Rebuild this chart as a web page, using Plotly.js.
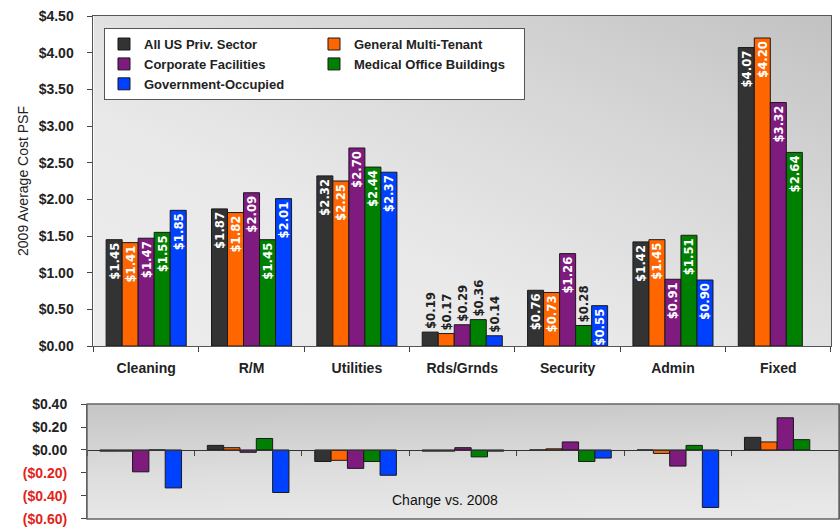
<!DOCTYPE html>
<html>
<head>
<meta charset="utf-8">
<script src="https://cdn.plot.ly/plotly-3.0.1.min.js"></script>
<style>html,body{margin:0;padding:0;background:#fff;}#chart{width:840px;height:527px;}</style>
</head>
<body>
<div id="chart"></div>
<script>
// ---- data ----
const categories = ['Cleaning', 'R/M', 'Utilities', 'Rds/Grnds', 'Security', 'Admin', 'Fixed'];
const seriesNames = ['All US Priv. Sector', 'General Multi-Tenant', 'Corporate Facilities', 'Medical Office Buildings', 'Government-Occupied'];

const allUS      = [1.45, 1.87, 2.32, 0.19, 0.76, 1.42, 4.07];
const generalMT  = [1.41, 1.82, 2.25, 0.17, 0.73, 1.45, 4.20];
const corporate  = [1.47, 2.09, 2.70, 0.29, 1.26, 0.91, 3.32];
const medical    = [1.55, 1.45, 2.44, 0.36, 0.28, 1.51, 2.64];
const government = [1.85, 2.01, 2.37, 0.14, 0.55, 0.90, null];

const allUSChg      = [-0.01, 0.04, -0.10, -0.01, 0.00, 0.00, 0.11];
const generalMTChg  = [-0.01, 0.02, -0.09, -0.01, 0.01, -0.03, 0.07];
const corporateChg  = [-0.19, -0.02, -0.16, 0.02, 0.07, -0.14, 0.28];
const medicalChg    = [0.00, 0.10, -0.10, -0.06, -0.10, 0.04, 0.09];
const governmentChg = [-0.33, -0.37, -0.22, -0.01, -0.07, -0.50, null];

const costTicks = [0, 0.5, 1, 1.5, 2, 2.5, 3, 3.5, 4, 4.5];
const changeTicks = [0.4, 0.2, 0, -0.2, -0.4, -0.6];

// ---- styles ----
const colors = ['#333333', '#ff6600', '#7f1a7f', '#008000', '#0040ff'];
const groups = ['a', 'b', 'a', 'b', 'a'];
const costSeries = [allUS, generalMT, corporate, medical, government];
const changeSeries = [allUSChg, generalMTChg, corporateChg, medicalChg, governmentChg];

const labelFont = 'Liberation Sans Narrow, Arial Narrow, DejaVu Sans Condensed, sans-serif';
const mainFont = 'Liberation Sans, Arial, sans-serif';

const traces = [];
costSeries.forEach((vals, i) => {
  traces.push({
    type: 'bar', name: seriesNames[i], x: categories, y: vals,
    xaxis: 'x', yaxis: 'y',
    legendgroup: groups[i],
    marker: {color: colors[i], line: {color: '#1a1a1a', width: 1}},
    texttemplate: '$%{y:.2f}',
    textangle: -90,
    textposition: vals.map(v => (v !== null && v < 0.4) ? 'outside' : 'inside'),
    insidetextanchor: 'end',
    constraintext: 'none',
    cliponaxis: false,
    insidetextfont: {family: labelFont, size: 13, color: '#ffffff', weight: 'bold'},
    outsidetextfont: {family: labelFont, size: 13, color: '#222222', weight: 'bold'},
    hoverinfo: 'x+y+name'
  });
});
changeSeries.forEach((vals, i) => {
  traces.push({
    type: 'bar', name: seriesNames[i], x: categories, y: vals,
    xaxis: 'x2', yaxis: 'y2',
    legendgroup: groups[i], showlegend: false,
    marker: {color: colors[i], line: {color: '#1a1a1a', width: 1}},
    hoverinfo: 'x+y+name'
  });
});

function gradient(svgInner) {
  const svg = '<svg xmlns="http://www.w3.org/2000/svg" width="100" height="100" viewBox="0 0 100 100" preserveAspectRatio="none">' + svgInner + '</svg>';
  return 'data:image/svg+xml;charset=utf-8,' + encodeURIComponent(svg);
}
const topBg = gradient('<defs><linearGradient id="g" x1="0" y1="1" x2="1" y2="0"><stop offset="0" stop-color="#ececec"/><stop offset="0.35" stop-color="#e9e9e9"/><stop offset="0.7" stop-color="#d6d6d6"/><stop offset="1" stop-color="#c2c2c2"/></linearGradient></defs><rect width="100" height="100" fill="url(#g)"/>');
const botBg = gradient('<defs><linearGradient id="h" x1="0.2" y1="0" x2="0.35" y2="1"><stop offset="0" stop-color="#c6c6c6"/><stop offset="0.6" stop-color="#dedede"/><stop offset="1" stop-color="#e8e8e8"/></linearGradient></defs><rect width="100" height="100" fill="url(#h)"/>');

const topDomY = [0.3439, 1];
const botDomY = [0, 0.2286];
const topDomX = [0.00864, 0.98936];
const botRange = [-0.6005, 0.4];
const zeroPos = botDomY[0] + (0 - botRange[0]) / (botRange[1] - botRange[0]) * (botDomY[1] - botDomY[0]);

const costTickText = costTicks.map(v => '$' + v.toFixed(2));
const changeTickText = changeTicks.map(v => v < 0
  ? '<span style="color:#e2231a">($' + Math.abs(v).toFixed(2) + ')</span>'
  : '$' + v.toFixed(2));

const layout = {
  width: 840, height: 527,
  margin: {l: 87, r: 1, t: 16, b: 8},
  paper_bgcolor: '#ffffff',
  plot_bgcolor: 'rgba(0,0,0,0)',
  barmode: 'group', bargap: 0.24, bargroupgap: 0,
  font: {family: mainFont, color: '#222222'},
  showlegend: true,
  legend: {
    orientation: 'h', traceorder: 'grouped', tracegroupgap: 10,
    entrywidth: 165, entrywidthmode: 'pixels',
    x: 0.0226, y: 0.976, xanchor: 'left', yanchor: 'top',
    bgcolor: '#ffffff', bordercolor: '#555555', borderwidth: 1,
    font: {family: mainFont, size: 13, color: '#222222', weight: 'bold'},
    itemwidth: 30
  },
  xaxis: {
    domain: topDomX, anchor: 'y', type: 'category',
    showline: true, linecolor: '#555555', linewidth: 1, mirror: true,
    ticks: 'outside', tickson: 'boundaries', ticklen: 5, tickcolor: '#444444',
    ticklabelstandoff: 9,
    tickfont: {family: mainFont, size: 14, color: '#222222', weight: 'bold'},
    showgrid: false, zeroline: false, fixedrange: true
  },
  yaxis: {
    domain: topDomY, anchor: 'x', range: [0, 4.5],
    tickvals: costTicks, ticktext: costTickText,
    showline: true, linecolor: '#555555', linewidth: 1, mirror: true,
    ticks: 'outside', ticklen: 5, tickcolor: '#444444',
    ticklabelstandoff: 11, ticklabeloverflow: 'allow',
    tickfont: {family: mainFont, size: 14, color: '#222222', weight: 'bold'},
    showgrid: false, zeroline: false,
    title: {text: '2009 Average Cost PSF', font: {family: mainFont, size: 14, color: '#222222'}, standoff: 6}
  },
  xaxis2: {
    domain: [0, 1], anchor: 'free', position: zeroPos, type: 'category',
    showline: true, linecolor: '#333333', linewidth: 1,
    ticks: 'outside', tickson: 'boundaries', ticklen: 5, tickcolor: '#444444',
    showticklabels: false, showgrid: false, zeroline: false
  },
  yaxis2: {
    domain: botDomY, anchor: 'x2', range: botRange,
    tickvals: changeTicks, ticktext: changeTickText,
    showline: true, linecolor: '#555555', linewidth: 1, mirror: true,
    ticks: 'outside', ticklen: 5, tickcolor: '#444444',
    ticklabelstandoff: 11, ticklabeloverflow: 'allow',
    tickfont: {family: mainFont, size: 14, color: '#222222', weight: 'bold'},
    showgrid: false, zeroline: false
  },
  images: [
    {source: topBg, xref: 'paper', yref: 'paper', x: topDomX[0], y: topDomY[1],
     sizex: topDomX[1] - topDomX[0], sizey: topDomY[1] - topDomY[0],
     xanchor: 'left', yanchor: 'top', sizing: 'stretch', layer: 'below'},
    {source: botBg, xref: 'paper', yref: 'paper', x: 0, y: botDomY[1],
     sizex: 1, sizey: botDomY[1] - botDomY[0],
     xanchor: 'left', yanchor: 'top', sizing: 'stretch', layer: 'below'}
  ],
  shapes: [
    {type: 'rect', xref: 'x2 domain', yref: 'y2 domain', x0: 0, x1: 1, y0: 0, y1: 1,
     line: {color: '#666666', width: 1.5}, fillcolor: 'rgba(0,0,0,0)', layer: 'above'}
  ],
  annotations: [
    {text: 'Change vs. 2008', xref: 'paper', yref: 'paper', x: 0.476, y: 0.038,
     xanchor: 'center', yanchor: 'middle', showarrow: false,
     font: {family: mainFont, size: 14, color: '#111111'}}
  ]
};

Plotly.newPlot('chart', traces, layout, {displayModeBar: false, staticPlot: true});
</script>
</body>
</html>
